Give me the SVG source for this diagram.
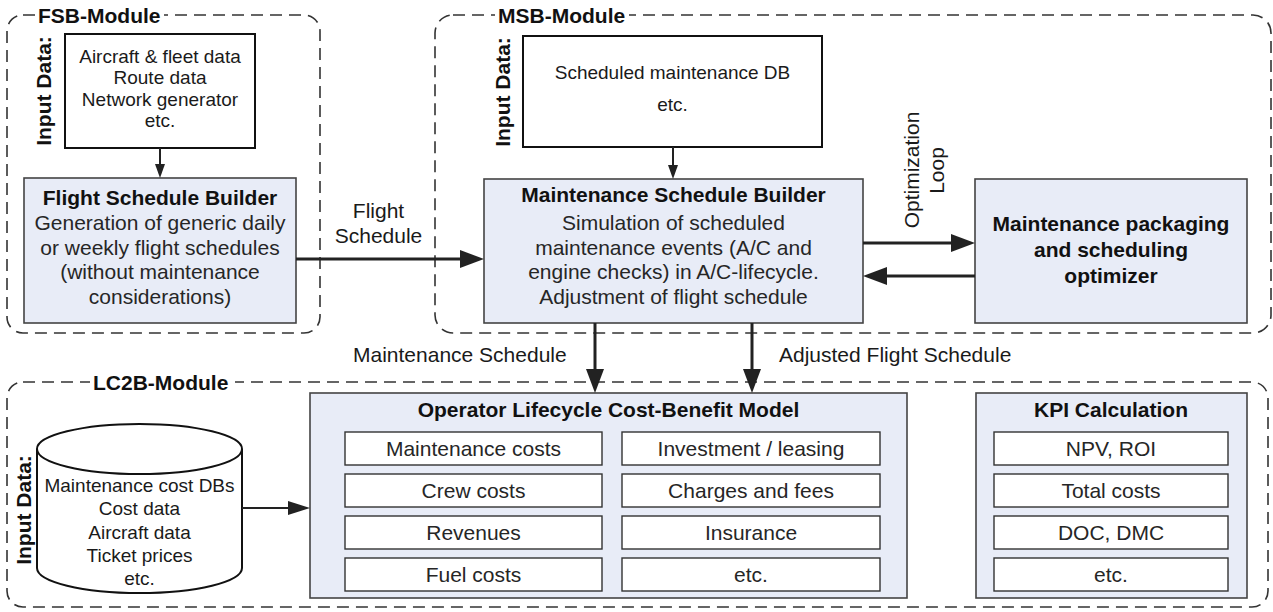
<svg xmlns="http://www.w3.org/2000/svg" width="1273" height="612" viewBox="0 0 1273 612">
<defs>
<style>
text { font-family: "Liberation Sans", Arial, sans-serif; fill: #1a1a1a; }
.mod { fill: none; stroke: #333; stroke-width: 1.6; stroke-dasharray: 12 7; }
.modt { font-size: 21px; font-weight: bold; fill: #111; }
.bg { fill: #fff; }
.inbox { fill: #fff; stroke: #111; stroke-width: 2; }
.blue { fill: #e8ecf7; stroke: #444; stroke-width: 1.6; }
.cell { fill: #fff; stroke: #333; stroke-width: 1.4; }
.t21 { font-size: 21px; text-anchor: middle; fill: #262626; }
.t19 { font-size: 19px; text-anchor: middle; }
.b21 { font-size: 21px; font-weight: bold; text-anchor: middle; fill: #111; }
.vert { font-size: 21px; font-weight: bold; text-anchor: middle; fill: #111; }
.lab { font-size: 21px; fill: #1a1a1a; }
.thick { fill: none; stroke: #222; stroke-width: 3; }
.thin { fill: none; stroke: #222; stroke-width: 2; }
</style>
<marker id="ah-big" markerUnits="userSpaceOnUse" markerWidth="24" markerHeight="18" viewBox="0 0 24 18" refX="4" refY="9" orient="auto"><path d="M0,0 L24,9 L0,18 z" fill="#222"/></marker>
<marker id="ah-mid" markerUnits="userSpaceOnUse" markerWidth="22" markerHeight="14" viewBox="0 0 22 14" refX="4" refY="7" orient="auto"><path d="M0,0 L22,7 L0,14 z" fill="#222"/></marker>
<marker id="ah-sm" markerUnits="userSpaceOnUse" markerWidth="14" markerHeight="10" viewBox="0 0 14 10" refX="3" refY="5" orient="auto"><path d="M0,0 L14,5 L0,10 z" fill="#222"/></marker>
</defs>
<rect x="0" y="0" width="1273" height="612" fill="#fff"/>

<!-- Module containers -->
<g id="fsb-module">
  <rect class="mod" x="7" y="15" width="313" height="318" rx="16"/>
  <rect class="bg" x="35" y="4" width="129" height="24"/>
  <text class="modt" x="38" y="22.5">FSB-Module</text>
  <text class="vert" transform="translate(51,91) rotate(-90)">Input Data:</text>
</g>
<g id="msb-module">
  <rect class="mod" x="435" y="15" width="836" height="318" rx="18"/>
  <rect class="bg" x="495" y="4" width="134" height="24"/>
  <text class="modt" x="498" y="22.5">MSB-Module</text>
  <text class="vert" transform="translate(510,92) rotate(-90)">Input Data:</text>
</g>
<g id="lc2b-module">
  <rect class="mod" x="7" y="382" width="1261" height="225" rx="16"/>
  <rect class="bg" x="90" y="371" width="145" height="24"/>
  <text class="modt" x="93" y="389.5">LC2B-Module</text>
  <text class="vert" transform="translate(31,510) rotate(-90)">Input Data:</text>
</g>

<!-- Nodes -->
<g id="fsb-input">
  <rect class="inbox" x="65" y="34" width="190" height="114"/>
  <text class="t19" x="160" y="63">Aircraft &amp; fleet data</text>
  <text class="t19" x="160" y="84">Route data</text>
  <text class="t19" x="160" y="105.5">Network generator</text>
  <text class="t19" x="160" y="127">etc.</text>
</g>
<g id="flight-schedule-builder">
  <rect class="blue" x="24" y="178" width="272" height="145"/>
  <text class="b21" x="160" y="205">Flight Schedule Builder</text>
  <text class="t21" x="160" y="230">Generation of generic daily</text>
  <text class="t21" x="160" y="254.5">or weekly flight schedules</text>
  <text class="t21" x="160" y="279">(without maintenance</text>
  <text class="t21" x="160" y="303.5">considerations)</text>
</g>
<g id="msb-input">
  <rect class="inbox" x="523" y="36" width="299" height="111"/>
  <text class="t19" x="672.5" y="79">Scheduled maintenance DB</text>
  <text class="t19" x="672.5" y="110.5">etc.</text>
</g>
<g id="maintenance-schedule-builder">
  <rect class="blue" x="484" y="179" width="379" height="144"/>
  <text class="b21" x="673.5" y="202">Maintenance Schedule Builder</text>
  <text class="t21" x="673.5" y="230">Simulation of scheduled</text>
  <text class="t21" x="673.5" y="254.5">maintenance events (A/C and</text>
  <text class="t21" x="673.5" y="279">engine checks) in A/C-lifecycle.</text>
  <text class="t21" x="673.5" y="303.5">Adjustment of flight schedule</text>
</g>
<g id="optimizer">
  <rect class="blue" x="975" y="179" width="272" height="144"/>
  <text class="b21" x="1111" y="231">Maintenance packaging</text>
  <text class="b21" x="1111" y="257">and scheduling</text>
  <text class="b21" x="1111" y="282.5">optimizer</text>
</g>
<g id="lc2b-input">
  <path d="M37,449 L37,568 A102.5,25 0 0 0 242,568 L242,449" fill="#fff" stroke="#111" stroke-width="2"/>
  <ellipse cx="139.5" cy="449" rx="102.5" ry="25" fill="#fff" stroke="#111" stroke-width="2"/>
  <text class="t19" x="139.5" y="492">Maintenance cost DBs</text>
  <text class="t19" x="139.5" y="515">Cost data</text>
  <text class="t19" x="139.5" y="538.5">Aircraft data</text>
  <text class="t19" x="139.5" y="562">Ticket prices</text>
  <text class="t19" x="139.5" y="584.5">etc.</text>
</g>
<g id="cost-benefit-model">
  <rect class="blue" x="310" y="393" width="597" height="205"/>
  <text class="b21" x="608.5" y="417">Operator Lifecycle Cost-Benefit Model</text>
  <rect class="cell" x="345" y="432" width="257" height="33"/>
  <rect class="cell" x="345" y="474" width="257" height="33"/>
  <rect class="cell" x="345" y="516" width="257" height="33"/>
  <rect class="cell" x="345" y="558" width="257" height="33"/>
  <rect class="cell" x="622" y="432" width="258" height="33"/>
  <rect class="cell" x="622" y="474" width="258" height="33"/>
  <rect class="cell" x="622" y="516" width="258" height="33"/>
  <rect class="cell" x="622" y="558" width="258" height="33"/>
  <text class="t21" x="473.5" y="455.5">Maintenance costs</text>
  <text class="t21" x="473.5" y="497.5">Crew costs</text>
  <text class="t21" x="473.5" y="539.5">Revenues</text>
  <text class="t21" x="473.5" y="581.5">Fuel costs</text>
  <text class="t21" x="751" y="455.5">Investment / leasing</text>
  <text class="t21" x="751" y="497.5">Charges and fees</text>
  <text class="t21" x="751" y="539.5">Insurance</text>
  <text class="t21" x="751" y="581.5">etc.</text>
</g>
<g id="kpi-calculation">
  <rect class="blue" x="976" y="393" width="271" height="205"/>
  <text class="b21" x="1111" y="417">KPI Calculation</text>
  <rect class="cell" x="994" y="432" width="234" height="33"/>
  <rect class="cell" x="994" y="474" width="234" height="33"/>
  <rect class="cell" x="994" y="516" width="234" height="33"/>
  <rect class="cell" x="994" y="558" width="234" height="33"/>
  <text class="t21" x="1111" y="455.5">NPV, ROI</text>
  <text class="t21" x="1111" y="497.5">Total costs</text>
  <text class="t21" x="1111" y="539.5">DOC, DMC</text>
  <text class="t21" x="1111" y="581.5">etc.</text>
</g>

<!-- Connectors -->
<g id="connectors">
  <path class="thin" d="M160,148 L160,167" marker-end="url(#ah-sm)"/>
  <path class="thin" d="M673,147 L673,168" marker-end="url(#ah-sm)"/>
  <path class="thick" d="M296,259 L464,259" marker-end="url(#ah-big)"/>
  <path class="thick" d="M863,243 L955,243" marker-end="url(#ah-big)"/>
  <path class="thick" d="M975,276 L883,276" marker-end="url(#ah-big)"/>
  <path class="thick" d="M595,323 L595,373" marker-end="url(#ah-big)"/>
  <path class="thick" d="M752,323 L752,373" marker-end="url(#ah-big)"/>
  <path class="thin" d="M242,508 L292,508" marker-end="url(#ah-mid)"/>
  <text class="lab" x="378.5" y="218" text-anchor="middle">Flight</text>
  <text class="lab" x="378.5" y="243" text-anchor="middle">Schedule</text>
  <text class="lab" transform="translate(919,170) rotate(-90)" text-anchor="middle">Optimization</text>
  <text class="lab" transform="translate(944,170.5) rotate(-90)" text-anchor="middle">Loop</text>
  <text class="lab" x="353" y="362">Maintenance Schedule</text>
  <text class="lab" x="779" y="362">Adjusted Flight Schedule</text>
</g>
</svg>
